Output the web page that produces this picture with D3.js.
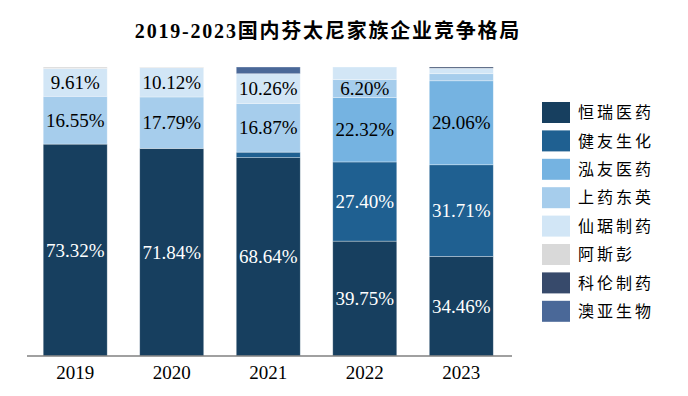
<!DOCTYPE html>
<html>
<head>
<meta charset="utf-8">
<script src="https://cdn.jsdelivr.net/npm/d3@7"></script>
<style>
  body { margin: 0; background: #fff; }
  svg { display: block; }
</style>
</head>
<body>
<div id="chart"></div>
<script>
// data, percent share per company per year
const years = ['2019', '2020', '2021', '2022', '2023'];
const companies = ['恒瑞医药', '健友生化', '泓友医药', '上药东英', '仙琚制药', '阿斯彭', '科伦制药', '澳亚生物'];
const hengrui = [73.32, 71.84, 68.64, 39.75, 34.46];
const jianyou = [0, 0, 1.90, 27.40, 31.71];
const hongyou = [0, 0, 0, 22.32, 29.06];
const shangyao = [16.55, 17.79, 16.87, 6.20, 2.45];
const xianju = [9.61, 10.12, 10.26, 4.33, 1.90];
const aspen = [0.52, 0.25, 0, 0, 0];
const kelun = [0, 0, 0, 0, 0.42];
const aoya = [0, 0, 2.33, 0, 0];
const colors = ['#173f5f', '#1f6091', '#75b3e1', '#a6cdec', '#d2e6f6', '#d9d9d9', '#374a6b', '#4a6898'];

const seriesValues = [hengrui, jianyou, hongyou, shangyao, xianju, aspen, kelun, aoya];
const rows = years.map((y, i) => {
  const row = { year: y };
  companies.forEach((c, k) => { row[c] = seriesValues[k][i]; });
  return row;
});

const width = 688, height = 396;
const serif = "'Liberation Serif', 'Times New Roman', 'Noto Sans CJK SC', serif";

const svg = d3.select('#chart').append('svg')
  .attr('width', width)
  .attr('height', height);

// title
svg.append('text')
  .attr('x', 328)
  .attr('y', 38)
  .attr('text-anchor', 'middle')
  .style('font-family', serif)
  .style('font-weight', 'bold')
  .style('font-size', '20px')
  .style('letter-spacing', '1.8px')
  .text('2019-2023国内芬太尼家族企业竞争格局');

const x = d3.scaleBand()
  .domain(years)
  .range([27, 509.5])
  .paddingInner(0.337)
  .paddingOuter(0.168);

const y = d3.scaleLinear()
  .domain([0, 100])
  .range([356, 67]);

const stack = d3.stack().keys(companies);
const layers = stack(rows);

const groups = svg.append('g').selectAll('g')
  .data(layers)
  .join('g')
    .attr('fill', (d, i) => colors[i]);

groups.selectAll('rect')
  .data(d => d)
  .join('rect')
    .attr('x', d => x(d.data.year))
    .attr('width', x.bandwidth())
    .attr('y', d => y(d[1]))
    .attr('height', d => Math.max(0, y(d[0]) - y(d[1])))
    .attr('stroke', 'rgba(255,255,255,0.45)')
    .attr('stroke-width', 0.7);

// value labels for segments of 5% and up
groups.each(function(layer, i) {
  d3.select(this).selectAll('text')
    .data(layer.filter(d => d[1] - d[0] >= 5))
    .join('text')
      .attr('x', d => x(d.data.year) + x.bandwidth() / 2)
      .attr('y', d => y((d[0] + d[1]) / 2))
      .attr('dy', '0.35em')
      .attr('text-anchor', 'middle')
      .attr('fill', i < 2 ? '#fff' : '#000')
      .style('font-family', serif)
      .style('font-size', '19px')
      .text(d => (d[1] - d[0]).toFixed(2) + '%');
});

// x axis
const axis = svg.append('g')
  .attr('transform', 'translate(0,356)')
  .call(d3.axisBottom(x).tickSize(0).tickPadding(10));
axis.select('.domain')
  .attr('d', 'M27,0H512')
  .attr('stroke', '#808080')
  .attr('stroke-width', 1.5);
axis.selectAll('text')
  .style('font-family', serif)
  .style('font-size', '19px')
  .attr('fill', '#000');

// legend
const legend = svg.append('g')
  .selectAll('g')
  .data(companies)
  .join('g')
    .attr('transform', (d, i) => `translate(542,${102 + i * 28.4})`);

legend.append('rect')
  .attr('width', 28)
  .attr('height', 21)
  .attr('fill', (d, i) => colors[i]);

legend.append('text')
  .attr('x', 36)
  .attr('y', 10.5)
  .attr('dy', '0.35em')
  .style('font-family', "'Noto Sans CJK SC', sans-serif")
  .style('font-size', '16px')
  .style('letter-spacing', '3px')
  .attr('fill', '#000')
  .text(d => d);
</script>
</body>
</html>
